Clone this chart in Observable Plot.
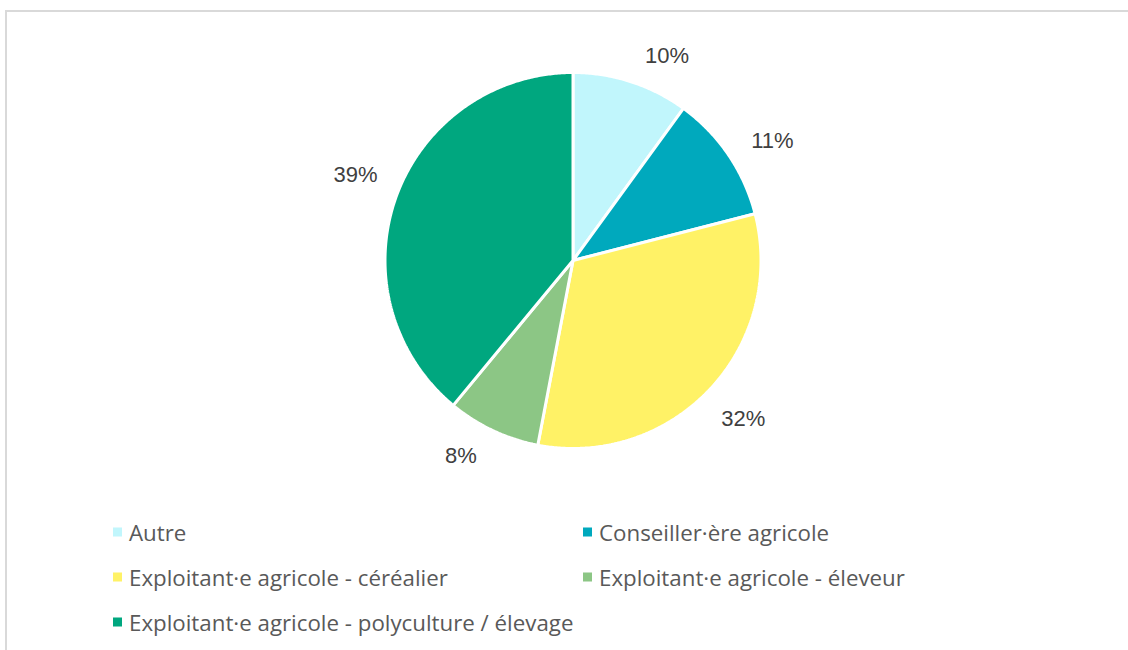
<!DOCTYPE html>
<html>
<head>
<meta charset="utf-8">
<script src="https://cdn.jsdelivr.net/npm/d3@7"></script>
<script src="https://cdn.jsdelivr.net/npm/@observablehq/plot@0.6"></script>
<style>
  html, body { margin: 0; padding: 0; background: #fff; }
  #wrap { position: relative; width: 1128px; height: 650px; overflow: hidden; }
  #frame { position: absolute; left: 5px; top: 10px; width: 1130px; height: 660px; border: 2px solid #d9d9d9; box-sizing: border-box; }
  #chart { position: absolute; left: 0; top: 0; }
  #legend { position: absolute; left: 0; top: 0; width: 1128px; height: 650px; font-family: "Open Sans", "Liberation Sans", sans-serif; font-size: 22.3px; color: #595959; }
  .item { position: absolute; display: flex; align-items: center; white-space: nowrap; transform: translateY(-50%); }
  .sw { width: 9px; height: 9px; margin-right: 7px; }
</style>
</head>
<body>
<div id="wrap">
  <div id="frame"></div>
  <div id="chart"></div>
  <div id="legend"></div>
</div>
<script>
const categories = [
  "Autre",
  "Conseiller·ère agricole",
  "Exploitant·e agricole - céréalier",
  "Exploitant·e agricole - éleveur",
  "Exploitant·e agricole - polyculture / élevage"
];
const values = [10, 11, 32, 8, 39];
const colors = ["#C1F6FC", "#00A9BD", "#FFF266", "#8CC685", "#00A77F"];
const labels = ["10%", "11%", "32%", "8%", "39%"];

const total = d3.sum(values);
const points = [];
const labelRows = [];
let acc = 0;
categories.forEach((c, i) => {
  const a0 = acc / total * 2 * Math.PI;
  acc += values[i];
  const a1 = acc / total * 2 * Math.PI;
  points.push({cat: c, x: 0, y: 0});
  const n = Math.max(2, Math.ceil((a1 - a0) / (Math.PI / 360)));
  for (let k = 0; k <= n; k++) {
    const a = a0 + (a1 - a0) * k / n;
    points.push({cat: c, x: Math.sin(a), y: Math.cos(a)});
  }
  const am = (a0 + a1) / 2;
  const al = am + 2 * Math.PI / 180;
  labelRows.push({
    cat: c, label: labels[i],
    right: Math.sin(am) >= 0, upper: Math.cos(am) >= 0,
    x: 1.12 * Math.sin(al),
    y: 1.12 * Math.cos(al)
  });
});

const cx = 572.5, cy = 260, r = 188;
const labelStyle = {x: "x", y: "y", text: "label", fill: "#404040", fontSize: 22, fontFamily: "Liberation Sans, Arial, sans-serif"};
const labelMarks = [[true, true], [true, false], [false, true], [false, false]].map(([rt, up]) =>
  Plot.text(labelRows.filter(d => d.right === rt && d.upper === up), {
    ...labelStyle,
    textAnchor: rt ? "start" : "end",
    lineAnchor: up ? "bottom" : "top"
  })
);
const chart = Plot.plot({
  width: 1128,
  height: 500,
  margin: 0,
  x: {domain: [-1, 1], range: [cx - r, cx + r], axis: null},
  y: {domain: [-1, 1], range: [cy + r, cy - r], axis: null},
  color: {domain: categories, range: colors},
  style: {background: "transparent", overflow: "visible"},
  marks: [
    Plot.line(points, {x: "x", y: "y", z: "cat", fill: "cat", stroke: "white", strokeWidth: 3, strokeLinejoin: "miter", curve: "linear-closed"}),
    ...labelMarks
  ]
});
document.getElementById("chart").appendChild(chart);

const legendPos = [[113, 532], [583, 532], [113, 577], [583, 577], [113, 622]];
const legend = document.getElementById("legend");
categories.forEach((c, i) => {
  const d = document.createElement("div");
  d.className = "item";
  d.style.left = legendPos[i][0] + "px";
  d.style.top = legendPos[i][1] + "px";
  const s = document.createElement("span");
  s.className = "sw";
  s.style.background = colors[i];
  const t = document.createElement("span");
  t.textContent = c;
  d.appendChild(s); d.appendChild(t);
  legend.appendChild(d);
});
</script>
</body>
</html>
